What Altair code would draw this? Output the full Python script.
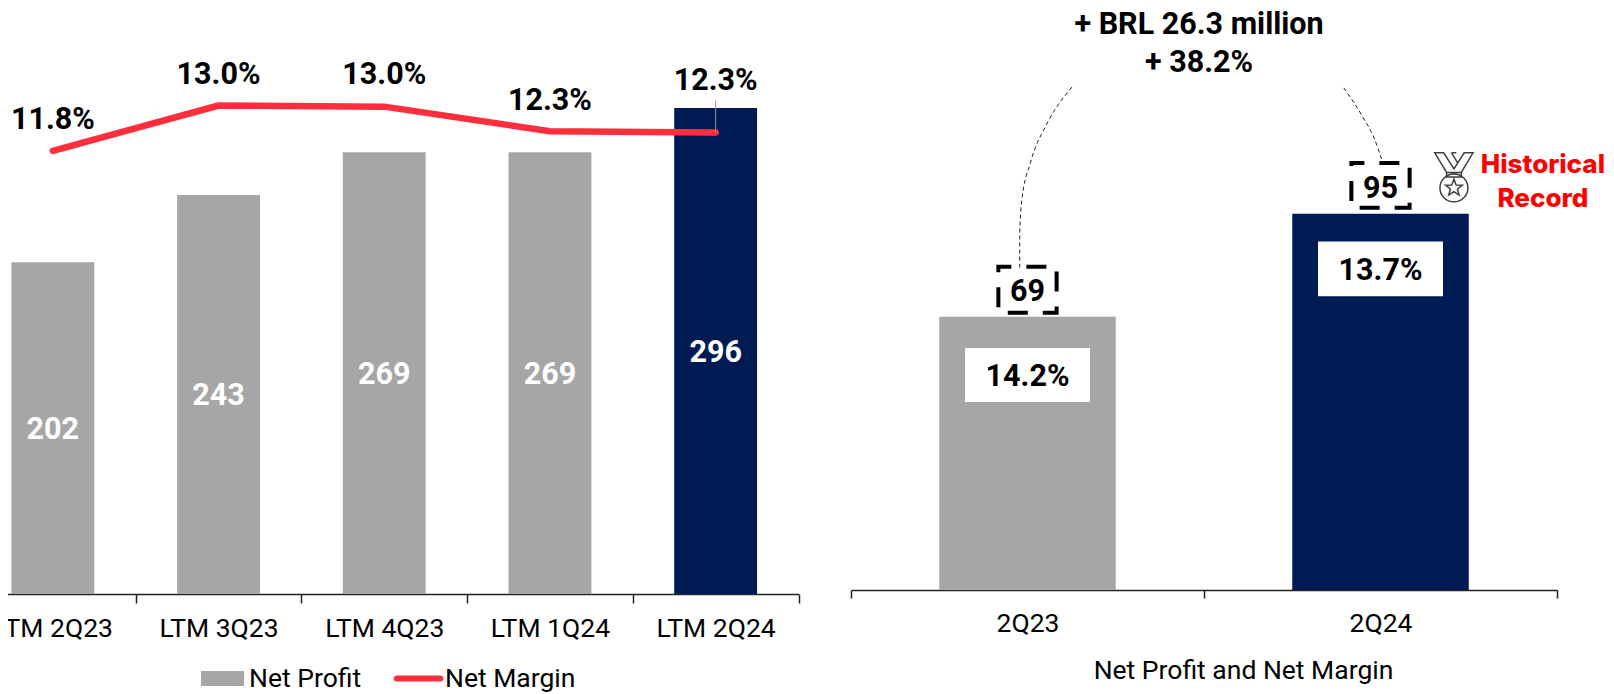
import altair as alt
import pandas as pd

# ---- data ----
ltm_periods = ["LTM 2Q23", "LTM 3Q23", "LTM 4Q23", "LTM 1Q24", "LTM 2Q24"]
net_profit = [202, 243, 269, 269, 296]
net_margin = [11.8, 13.0, 12.97, 12.32, 12.29]
margin_labels = ["11.8%", "13.0%", "13.0%", "12.3%", "12.3%"]
margin_label_pos = [12.67, 13.87, 13.87, 13.16, 13.71]

quarters = ["2Q23", "2Q24"]
q_profit = [69, 95]
q_margin_labels = ["14.2%", "13.7%"]
q_margin_pos = [54.3, 81.0]
q_box_low = [47.5, 74.2]
q_box_high = [61.1, 88.0]
q_dash_low = [70.0, 96.5]
q_dash_high = [81.6, 107.8]
q_value_pos = [75.8, 101.8]

arc_left_x = [0.313, 0.278, 0.254, 0.242, 0.239, 0.239]
arc_left_y = [127.0, 117.9, 107.8, 98.5, 90.2, 81.3]
arc_right_x = [0.698, 0.725, 0.741, 0.752]
arc_right_y = [126.8, 119.4, 114.1, 108.6]

head_text = ["+ BRL 26.3 million", "+ 38.2%"]
head_x = [0.493, 0.493]
head_y = [143.2, 133.6]
record_text = ["Historical", "Record"]
record_x = [0.980, 0.980]
record_y = [107.3, 98.7]

GRAY = "#A6A6A6"
NAVY = "#001A53"
RED = "#FF2E3C"
FONT = "Roboto"
MEDAL = ("M-.78,-1L-.3,-.2H.3L.78,-1H.42L0,-.35L-.42,-1ZM-.1,-1L.16,-.58M.1,-1H-.1M-.3,-.2V-.02H.3V-.2"
         "M-.57,.43A.57,.57,0,1,1,.57,.43A.57,.57,0,1,1,-.57,.43Z"
         "M0,.07L.088,.309L.342,.319L.143,.476L.212,.721L0,.58L-.212,.721L-.143,.476L-.342,.319L-.088,.309Z")
LINE_KEY = "M-.93,-.128A.128,.128,0,0,0,-.93,.128H.93A.128,.128,0,0,0,.93,-.128Z"

left = pd.DataFrame({"period": ltm_periods, "profit": net_profit, "mid": [v / 2 for v in net_profit],
                     "margin": net_margin, "mlabel": margin_labels, "mpos": margin_label_pos,
                     "series": "Net Margin", "pseries": "Net Profit"})
right = pd.DataFrame({"q": quarters, "profit": q_profit, "mlabel": q_margin_labels, "mpos": q_margin_pos,
                      "blo": q_box_low, "bhi": q_box_high, "dlo": q_dash_low, "dhi": q_dash_high,
                      "vpos": q_value_pos})
arcs = pd.DataFrame({"fx": arc_left_x + arc_right_x, "fy": arc_left_y + arc_right_y,
                     "arc": ["a"] * len(arc_left_x) + ["b"] * len(arc_right_x)})
head = pd.DataFrame({"fx": head_x, "fy": head_y, "t": head_text})
record = pd.DataFrame({"fx": record_x, "fy": record_y, "t": record_text})
medal = pd.DataFrame({"fx": [0.854], "fy": [104.2]})

# ---- scales ----
LX = alt.Scale(domain=ltm_periods, range=[-38, 790.5], paddingInner=0, paddingOuter=0, round=False)
RX = alt.Scale(domain=quarters, range=[843, 1549], paddingInner=0, paddingOuter=0, round=False)
RF = alt.Scale(domain=[0, 1], range=[843, 1549], nice=False, zero=False)
LY = alt.Scale(domain=[0, 300], range=[586, 93.4], nice=False)
MY = alt.Scale(domain=[11, 14], range=[173.3, 59.6], nice=False, zero=False)
RY = alt.Scale(domain=[0, 145], range=[582, 7.8], nice=False)

lx = alt.X("period:N", scale=LX, axis=None, sort=None)
rx = alt.X("q:N", scale=RX, axis=None, sort=None)
fx = alt.X("fx:Q", scale=RF, axis=None)
fy = alt.Y("fy:Q", scale=RY, axis=None)

axis_common = dict(orient="bottom", labelAngle=0, tickBand="extent", grid=False,
                   domainColor="#222222", tickColor="#222222", domainWidth=1.5, tickWidth=1.5,
                   labelFont=FONT, labelFontSize=26.5, labelColor="#000000", labelOverlap=False)
left_axis = alt.Axis(title=None, offset=-100, tickSize=9, labelPadding=12, **axis_common)
right_axis = alt.Axis(title="Net Profit and Net Margin", titleFont=FONT, titleFontSize=26.5, titleFontWeight="normal",
                      titleColor="#000000", titleX=1235, titleY=80, titleBaseline="middle",
                      offset=-104, tickSize=8, labelPadding=12, **axis_common)

BOLD = dict(font=FONT, fontSize=30.5, fontWeight="bold", baseline="middle", align="center", dy=2)

# ---- left panel ----
gray_bars = alt.Chart(left[:4]).mark_bar(width={"band": 0.5}).encode(
    x=alt.X("period:N", scale=LX, axis=left_axis, sort=None),
    y=alt.Y("profit:Q", scale=LY, axis=None),
    fill=alt.Fill("pseries:N", scale=alt.Scale(domain=["Net Profit"], range=[GRAY]),
                  legend=alt.Legend(title=None, orient="none", legendX=193, legendY=649,
                                    symbolType="M-1,-.35H1V.35H-1Z", symbolSize=1849, symbolOpacity=1,
                                    symbolStrokeWidth=0, labelFont=FONT, labelFontSize=26.5, labelColor="#000000",
                                    labelOffset=5)),
)
navy_bar = alt.Chart(left[4:]).mark_bar(width={"band": 0.5}, color=NAVY).encode(
    x=lx, y=alt.Y("profit:Q", scale=LY, axis=None))
bar_text = alt.Chart(left).mark_text(color="white", **BOLD).encode(
    x=lx, y=alt.Y("mid:Q", scale=LY, axis=None), text="profit:Q")
margin_line = alt.Chart(left).mark_line(strokeWidth=6.5, strokeCap="round", strokeJoin="round").encode(
    x=lx, y=alt.Y("margin:Q", scale=MY, axis=None),
    stroke=alt.Stroke("series:N", scale=alt.Scale(domain=["Net Margin"], range=[RED]),
                      legend=alt.Legend(title=None, orient="none", legendX=387, legendY=647,
                                        symbolType=LINE_KEY, symbolSize=2209, symbolStrokeWidth=0,
                                        symbolFillColor=RED, symbolOpacity=1,
                                        labelFont=FONT, labelFontSize=26.5, labelColor="#000000",
                                        labelOffset=3)),
)
leader = alt.Chart(left[4:]).mark_rule(color="#9A9A9A", strokeWidth=1).encode(
    x=lx, y=alt.Y("margin:Q", scale=MY, axis=None), y2=alt.Y2(datum=13.14))
margin_text = alt.Chart(left).mark_text(color="black", **BOLD).encode(
    x=lx, y=alt.Y("mpos:Q", scale=MY, axis=None), text="mlabel:N")

# ---- right panel ----
r_gray = alt.Chart(right[:1]).mark_bar(width={"band": 0.5}, color=GRAY).encode(
    x=alt.X("q:N", scale=RX, axis=right_axis, sort=None), y=alt.Y("profit:Q", scale=RY, axis=None))
r_navy = alt.Chart(right[1:]).mark_bar(width={"band": 0.5}, color=NAVY).encode(
    x=rx, y=alt.Y("profit:Q", scale=RY, axis=None))
r_box = alt.Chart(right).mark_bar(width={"band": 0.354}, color="white").encode(
    x=rx, y=alt.Y("blo:Q", scale=RY, axis=None), y2="bhi:Q")
r_box_text = alt.Chart(right).mark_text(color="black", **BOLD).encode(
    x=rx, y=alt.Y("mpos:Q", scale=RY, axis=None), text="mlabel:N")
r_dash = alt.Chart(right).mark_bar(width={"band": 0.165}, filled=False, stroke="black", strokeWidth=4,
                                   strokeDash=[20, 15], strokeDashOffset=7).encode(
    x=rx, y=alt.Y("dlo:Q", scale=RY, axis=None), y2="dhi:Q")
r_val = alt.Chart(right).mark_text(color="black", **BOLD).encode(
    x=rx, y=alt.Y("vpos:Q", scale=RY, axis=None), text="profit:Q")
arc_lines = alt.Chart(arcs).mark_line(color="#222222", strokeWidth=1, strokeDash=[4, 3],
                                      interpolate="monotone").encode(
    x=fx, y=fy, detail="arc:N", order=alt.Order("fy:Q", sort="descending"))
head_txt = alt.Chart(head).mark_text(color="black", **BOLD).encode(x=fx, y=fy, text="t:N")
record_txt = alt.Chart(record).mark_text(color="#FF0000", font="Inter", fontSize=26, fontWeight=800,
                                         baseline="middle", align="center").encode(x=fx, y=fy, text="t:N")
medal_mark = alt.Chart(medal).mark_point(shape=MEDAL, size=2401, filled=False, stroke="#404040",
                                         strokeWidth=1.5, opacity=1).encode(x=fx, y=fy)

chart = alt.layer(
    gray_bars, navy_bar, bar_text, margin_line, leader, margin_text,
    r_gray, r_navy, r_box, r_box_text, r_dash, r_val, arc_lines, head_txt, record_txt, medal_mark,
).resolve_scale(x="independent", y="independent", fill="independent", stroke="independent").properties(
    width=1598, height=686, padding=0,
    autosize=alt.AutoSizeParams(type="none"),
).configure_view(stroke=None)

chart.save("out.html", embed_options={"renderer": "svg", "actions": False})
